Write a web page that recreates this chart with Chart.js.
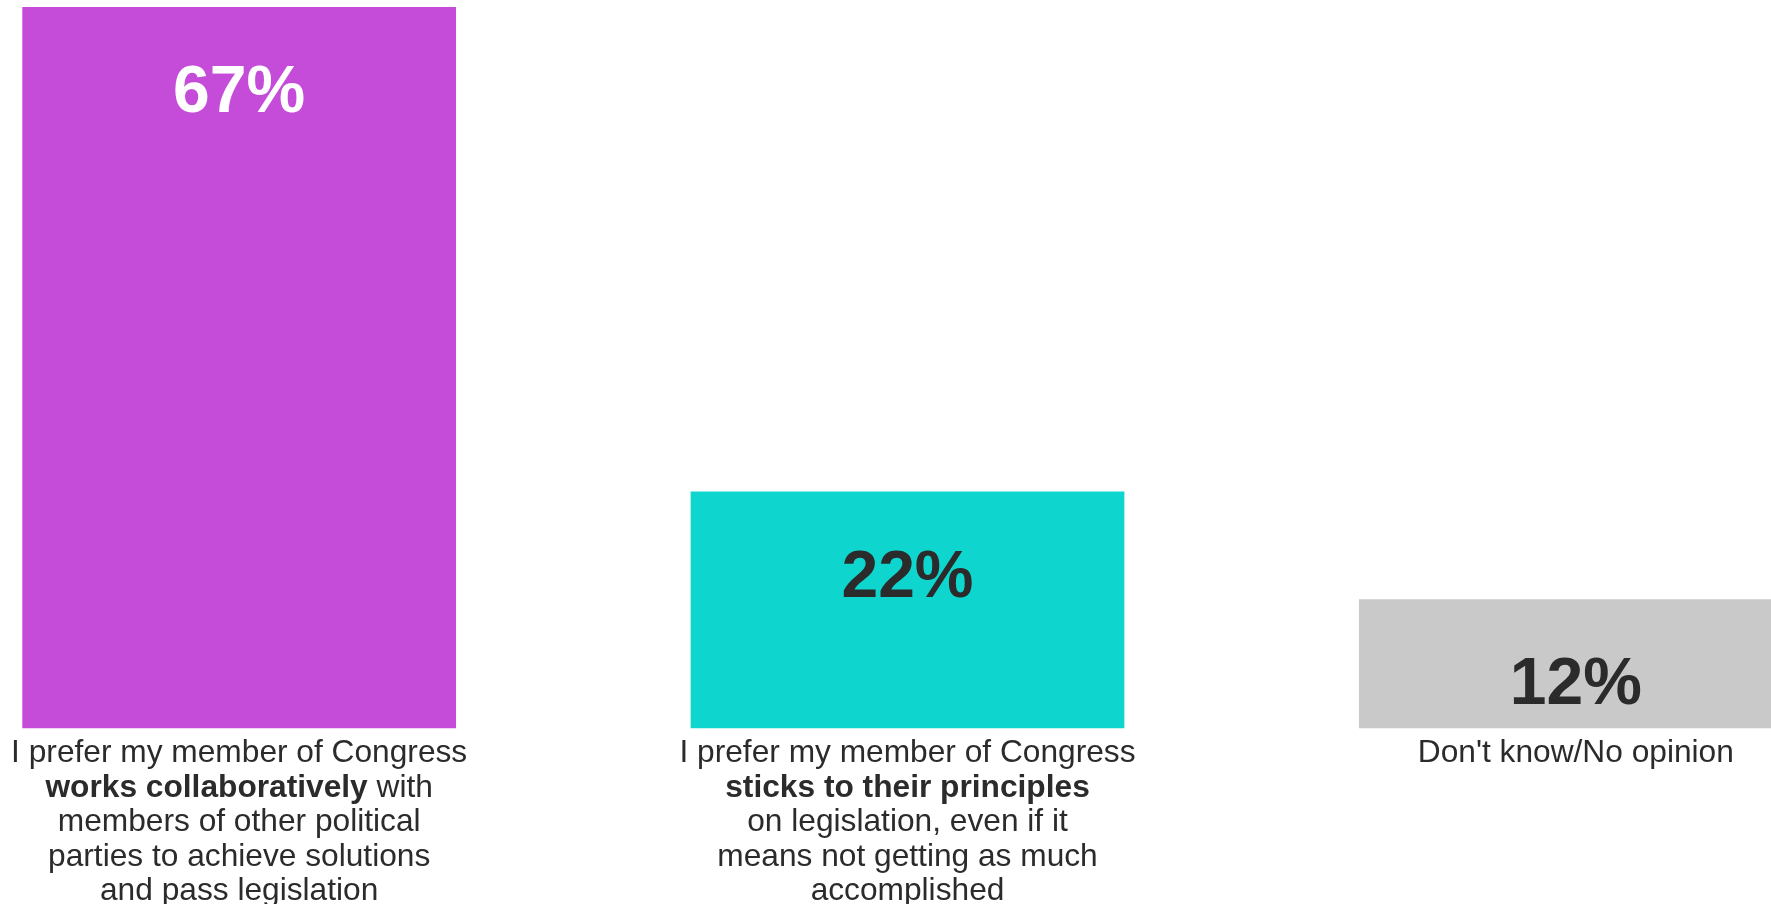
<!DOCTYPE html>
<html>
<head>
<meta charset="utf-8">
<script src="https://cdn.jsdelivr.net/npm/chart.js@4"></script>
<style>
  html, body { margin: 0; padding: 0; background: #fff; overflow: hidden; width: 1771px; height: 904px; }
  #myChart { position: absolute; left: -95px; top: 0; }
</style>
</head>
<body>
<canvas id="myChart" width="2005" height="904"></canvas>
<script>
// category labels, **text** marks the bold part
const categories = [
  ["I prefer my member of Congress", "**works collaboratively** with", "members of other political", "parties to achieve solutions", "and pass legislation"],
  ["I prefer my member of Congress", "**sticks to their principles**", "on legislation, even if it", "means not getting as much", "accomplished"],
  ["Don't know/No opinion"]
]
const values = [67, 22, 12]
const barColors = ['#c44cd8', '#0ed6ce', '#c9c9c9']
const valueColors = ['#ffffff', '#2b2b2b', '#2b2b2b']

const FONT = '"Liberation Sans", Arial, sans-serif'

// percent labels near the top of each bar
const valueLabels = {
  id: 'valueLabels',
  afterDatasetsDraw(chart) {
    const ctx = chart.ctx
    const meta = chart.getDatasetMeta(0)
    ctx.save()
    ctx.font = 'bold 66px ' + FONT
    ctx.textAlign = 'center'
    ctx.textBaseline = 'middle'
    meta.data.forEach(function(bar, i) {
      ctx.fillStyle = valueColors[i]
      ctx.fillText(values[i] + '%', bar.x, bar.y + 87)
    })
    ctx.restore()
  }
}

// category labels under the bars, with bold parts
const categoryLabels = {
  id: 'categoryLabels',
  afterDraw(chart) {
    const ctx = chart.ctx
    const xScale = chart.scales.x
    const top = chart.chartArea.bottom
    ctx.save()
    ctx.fillStyle = '#2b2b2b'
    ctx.textBaseline = 'middle'
    ctx.textAlign = 'left'
    categories.forEach(function(lines, i) {
      const cx = xScale.getPixelForValue(i)
      lines.forEach(function(line, j) {
        const parts = line.split('**').map(function(t, k) { return { text: t, bold: k % 2 == 1 } })
        let total = 0
        parts.forEach(function(p) {
          ctx.font = (p.bold ? 'bold ' : '') + '31.7px ' + FONT
          p.w = ctx.measureText(p.text).width
          total += p.w
        })
        let x = cx - total / 2
        const y = top + 25 + j * 34.5
        parts.forEach(function(p) {
          ctx.font = (p.bold ? 'bold ' : '') + '31.7px ' + FONT
          ctx.fillText(p.text, x, y)
          x += p.w
        })
      })
    })
    ctx.restore()
  }
}

function updateGraph() {
  var ctx = document.getElementById('myChart').getContext('2d')
  new Chart(ctx, {
    type: 'bar',
    data: {
      labels: categories.map(function(c) { return c.join(' ').replace(/\*\*/g, '') }),
      datasets: [{
        data: values,
        backgroundColor: barColors,
        barPercentage: 0.649,
        categoryPercentage: 1
      }]
    },
    options: {
      responsive: false,
      animation: false,
      layout: { padding: { top: 7, bottom: 175.5, left: 0, right: 0 } },
      plugins: { legend: { display: false }, tooltip: { enabled: false } },
      scales: {
        x: { display: false, grid: { display: false } },
        y: { display: false, min: 0, max: 67, grid: { display: false } }
      }
    },
    plugins: [valueLabels, categoryLabels]
  })
}
updateGraph()
</script>
</body>
</html>
